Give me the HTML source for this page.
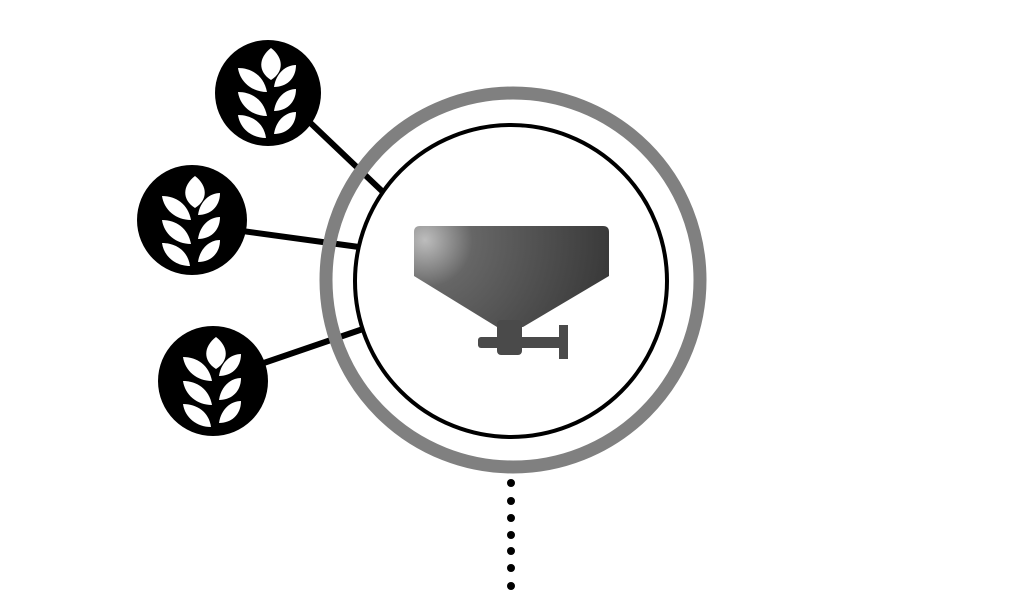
<!DOCTYPE html>
<html><head><meta charset="utf-8"><style>html,body{margin:0;padding:0;background:#fff;width:1023px;height:591px;overflow:hidden}</style></head>
<body>
<svg width="1023" height="591" viewBox="0 0 1023 591" xmlns="http://www.w3.org/2000/svg">
<defs>
<radialGradient id="hg" cx="425" cy="240" r="190" gradientUnits="userSpaceOnUse">
<stop offset="0" stop-color="#bdbdbd"/><stop offset="0.25" stop-color="#666"/><stop offset="1" stop-color="#383838"/>
</radialGradient>
<g id="wheat" fill="#fff">
<path d="M5,-42 C-8,-32 -8,-18 5,-10 C18,-18 18,-32 5,-42 Z"/>
<path d="M1,2 C-2,-14 -14,-22 -28,-22 C-26,-8 -14,2 1,2 Z"/>
<path d="M8,-3 C10,-17 20,-25 30,-25 C30,-11 20,-3 8,-3 Z"/>
<path d="M1,26 C-2,10 -14,2 -28,2 C-26,16 -14,26 1,26 Z"/>
<path d="M8,21 C10,7 20,-1 30,-1 C30,13 20,21 8,21 Z"/>
<path d="M0,48 C-2,33 -14,25 -28,25 C-26,39 -14,48 0,48 Z"/>
<path d="M8,44 C10,30 20,22 30,22 C30,36 20,44 8,44 Z"/>
</g>
</defs>
<g stroke="#000" stroke-width="6">
<line x1="300" y1="113" x2="384" y2="193"/>
<line x1="235" y1="230" x2="359" y2="247"/>
<line x1="255" y1="366" x2="363" y2="329"/>
</g>
<circle cx="513" cy="280" r="187" fill="none" stroke="#808080" stroke-width="13"/>
<circle cx="511" cy="281" r="156" fill="#fff" stroke="#000" stroke-width="4"/>
<circle cx="268" cy="93" r="53" fill="#000"/>
<use href="#wheat" transform="translate(266,90)"/>
<circle cx="192" cy="220" r="55" fill="#000"/>
<use href="#wheat" transform="translate(190,218)"/>
<circle cx="213" cy="381" r="55" fill="#000"/>
<use href="#wheat" transform="translate(211,379)"/>
<path d="M420,226 H603 Q609,226 609,232 V276 L523,327 H497 L414,276 V232 Q414,226 420,226 Z" fill="url(#hg)"/>
<rect x="497" y="320" width="25" height="35" rx="4" fill="#4a4a4a"/>
<rect x="478" y="337" width="87" height="11" rx="3" fill="#4a4a4a"/>
<rect x="559" y="325" width="9" height="34" fill="#4a4a4a"/>
<g fill="#000">
<circle cx="511" cy="483" r="4"/><circle cx="511" cy="501" r="4"/><circle cx="511" cy="518" r="4"/><circle cx="511" cy="535" r="4"/><circle cx="511" cy="551" r="4"/><circle cx="511" cy="568" r="4"/><circle cx="511" cy="586" r="4"/>
</g>
</svg>
</body></html>
